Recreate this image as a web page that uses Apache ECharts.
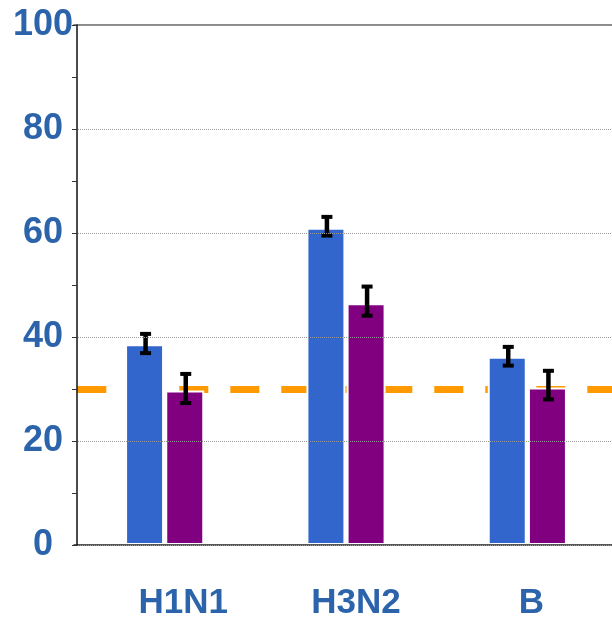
<!DOCTYPE html>
<html>
<head>
<meta charset="utf-8">
<style>html,body{margin:0;padding:0;background:#fff;}#c{width:612px;height:617px;}</style>
<script src="https://cdn.jsdelivr.net/npm/echarts@6/dist/echarts.min.js"></script>
</head>
<body>
<div id="c"></div>
<script>
const categories = ['H1N1', 'H3N2', 'B'];
const blueValues = [38.6, 61.0, 36.2];
const blueErrLow = [36.9, 59.5, 34.5];
const blueErrHigh = [40.6, 63.1, 38.1];
const purpleValues = [29.7, 46.5, 30.3];
const purpleErrLow = [27.3, 44.1, 28.0];
const purpleErrHigh = [32.9, 49.7, 33.5];
const thresholdValue = 30;
const yTicks = [0, 20, 40, 60, 80, 100];

const labelColor = '#2C64AC';
const fontFam = '"Liberation Sans", Arial, sans-serif';
const BAR_W = 39, BAR_GAP = 0.03;
const OFF = BAR_W * (1 + BAR_GAP) / 2;
const labelShift = [37, 20, 8];

const chart = echarts.init(document.getElementById('c'));

function errSeries(lo, hi, offset) {
  return {
    type: 'custom',
    z: 4,
    silent: true,
    data: categories.map((c, i) => [i, lo[i], hi[i]]),
    encode: { x: 0, y: [1, 2] },
    renderItem: function (params, api) {
      const i = api.value(0);
      const pLo = api.coord([i, api.value(1)]);
      const pHi = api.coord([i, api.value(2)]);
      const cx = pLo[0] + offset + 1;
      const st = { stroke: '#000', lineWidth: 4 };
      return {
        type: 'group',
        children: [
          { type: 'line', shape: { x1: cx, y1: pLo[1], x2: cx, y2: pHi[1] }, style: { stroke: '#000', lineWidth: 4.5 } },
          { type: 'line', shape: { x1: cx - 5.5, y1: pHi[1], x2: cx + 5.5, y2: pHi[1] }, style: st },
          { type: 'line', shape: { x1: cx - 5.5, y1: pLo[1], x2: cx + 5.5, y2: pLo[1] }, style: st }
        ]
      };
    }
  };
}

const rich = {};
labelShift.forEach((s, i) => {
  rich['l' + i] = { fontSize: 35, fontWeight: 'bold', color: labelColor, fontFamily: fontFam, padding: [0, 0, 0, s] };
});

chart.setOption({
  animation: false,
  backgroundColor: '#fff',
  grid: { left: 74, right: -6, top: 25, bottom: 72, outerBoundsMode: 'none', containLabel: false },
  xAxis: [{
    type: 'category',
    data: categories,
    z: 5,
    axisLine: { show: true, lineStyle: { color: '#222', width: 1.5 } },
    axisTick: { show: false },
    axisLabel: {
      margin: 41,
      formatter: function (v, i) { return '{l' + i + '|' + v + '}'; },
      rich: rich
    },
    splitLine: { show: false }
  }, {
    type: 'category',
    data: categories,
    position: 'top',
    z: 5,
    axisLine: { show: true, lineStyle: { color: '#8a8a8a', width: 2 } },
    axisTick: { show: false },
    axisLabel: { show: false }
  }],
  yAxis: {
    type: 'value',
    min: 0, max: 100, interval: 20,
    offset: -3,
    z: 6,
    axisLine: { show: true, lineStyle: { color: '#111', width: 1.5 } },
    axisTick: { show: true, length: 5, inside: false, lineStyle: { color: '#333', width: 1 } },
    minorTick: { show: true, splitNumber: 2, length: 5, lineStyle: { color: '#333', width: 1 } },
    axisLabel: {
      margin: 34,
      align: 'center',
      fontSize: 36,
      fontWeight: 'bold',
      color: labelColor,
      fontFamily: fontFam,
      padding: [0, 0, 8, 0],
      formatter: function (v) { return yTicks.indexOf(v) >= 0 ? String(v) : ''; }
    },
    splitLine: { show: true, lineStyle: { color: '#999', width: 1, type: 'dotted' } }
  },
  series: [{
    type: 'bar',
    data: blueValues,
    barWidth: BAR_W,
    barGap: (BAR_GAP * 100) + '%',
    itemStyle: { color: '#3366CC', borderColor: '#fff', borderWidth: 2 },
    z: 2,
    markLine: {
      z: 1,
      silent: true,
      symbol: 'none',
      label: { show: false },
      lineStyle: { color: '#FF9900', width: 7, type: [29, 22], dashOffset: 47.7 },
      data: [{ yAxis: thresholdValue }]
    }
  }, {
    type: 'bar',
    data: purpleValues,
    barWidth: BAR_W,
    itemStyle: { color: '#800080', borderColor: '#fff', borderWidth: 2 },
    z: 2
  },
  errSeries(blueErrLow, blueErrHigh, -OFF),
  errSeries(purpleErrLow, purpleErrHigh, OFF)
  ]
});
</script>
</body>
</html>
